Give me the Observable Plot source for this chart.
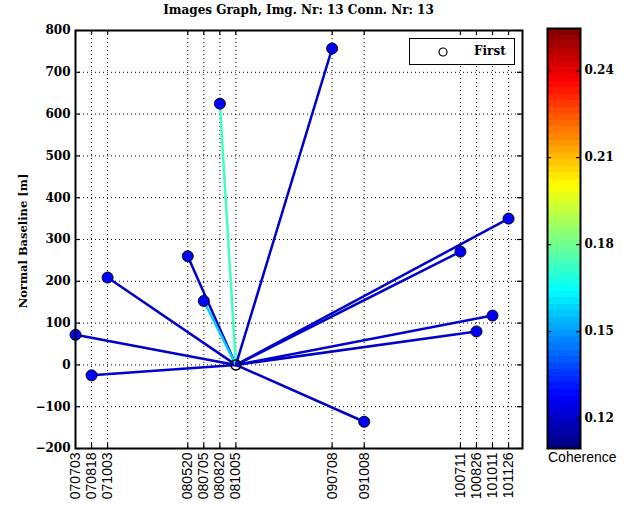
<!DOCTYPE html>
<html>
<head>
<meta charset="utf-8">
<script src="https://cdn.jsdelivr.net/npm/d3@7"></script>
<script src="https://cdn.jsdelivr.net/npm/@observablehq/plot@0.6"></script>
<style>
  body { margin: 0; background: #fff; }
  #wrap { position: relative; width: 630px; height: 506px; background: #fff; overflow: hidden; }
  .abs { position: absolute; }
  #title { left: 75px; width: 447px; top: 3px; text-align: center; font: bold 12px "DejaVu Serif", serif; color: #000; }
  #ylab { left: 23px; top: 241px; transform: translate(-50%, -50%) rotate(-90deg); white-space: nowrap; font: bold 11.5px "DejaVu Serif", serif; }
  #cblab { left: 548px; top: 449px; font: 14px "Liberation Sans", Arial, sans-serif; }
  #legend { left: 409px; top: 38px; width: 106px; height: 27px; box-sizing: border-box; border: 1px solid #000; background: #fff; }
  #legtext { left: 64px; top: 5px; font: bold 12px "DejaVu Serif", serif; }
  #legdot { left: 28px; top: 8px; }
</style>
</head>
<body>
<div id="wrap">
  <div id="main" class="abs" style="left:0;top:0"></div>
  <div id="cb" class="abs" style="left:540px;top:0"></div>
  <div id="title" class="abs"></div>
  <div id="ylab" class="abs"></div>
  <div id="cblab" class="abs"></div>
  <div id="legend" class="abs">
    <svg id="legdot" class="abs" width="10" height="10"><circle cx="5" cy="5" r="4" fill="#fff" stroke="#000" stroke-width="1.2"></circle></svg>
    <div id="legtext" class="abs"></div>
  </div>
</div>
<script>
// ---- data ----
const titleText = "Images Graph, Img. Nr: 13 Conn. Nr: 13";
const yLabel = "Normal Baseline [m]";
const cbLabel = "Coherence";
const legendLabel = "First";
const dates = ["070703","070818","071003","080520","080705","080820","081005","090708","091008","100711","100826","101011","101126"];
const baselines = [72, -25, 209, 260, 153, 625, 0, 757, -136, 271, 80, 118, 350];
const coherence = [0.120, 0.121, 0.120, 0.120, 0.157, 0.173, null, 0.120, 0.120, 0.121, 0.120, 0.121, 0.120];
const masterDate = "081005";
const yTicks = [-200, -100, 0, 100, 200, 300, 400, 500, 600, 700, 800];
const cbTicks = [0.12, 0.15, 0.18, 0.21, 0.24];
const cbDomain = [0.1097, 0.2545];
const xEndDate = "110105";

// ---- helpers ----
const parse = s => new Date(Date.UTC(2000 + +s.slice(0, 2), +s.slice(2, 4) - 1, +s.slice(4, 6)));
const clamp = v => Math.max(0, Math.min(1, v));
const jet = t => {
  const r = clamp(1.5 - Math.abs(4 * t - 3));
  const g = clamp(1.5 - Math.abs(4 * t - 2));
  const b = clamp(1.5 - Math.abs(4 * t - 1));
  return `rgb(${Math.round(r * 255)},${Math.round(g * 255)},${Math.round(b * 255)})`;
};

const dateVals = dates.map(parse);
const labelOf = new Map(dates.map((d, i) => [+dateVals[i], d]));
const points = dates.map((d, i) => ({date: dateVals[i], b: baselines[i], c: coherence[i], master: d === masterDate}));
const master = points.find(p => p.master);
const slaves = points.filter(p => !p.master);

document.getElementById("title").textContent = titleText;
document.getElementById("ylab").textContent = yLabel;
document.getElementById("cblab").textContent = cbLabel;
document.getElementById("legtext").textContent = legendLabel;

// ---- main plot ----
const W = 540, H = 506, mL = 75, mT = 30, mR = 18, mB = 58;
const pW = W - mL - mR, pH = H - mT - mB;
const tickFont = {fontFamily: "DejaVu Serif", fontWeight: "bold", fontSize: 12};

const main = Plot.plot({
  width: W, height: H,
  marginLeft: mL, marginTop: mT, marginRight: mR, marginBottom: mB,
  style: {background: "transparent", color: "#000"},
  x: {type: "utc", domain: [dateVals[0], parse(xEndDate)]},
  y: {domain: [yTicks[0], yTicks[yTicks.length - 1]]},
  color: {type: "linear", domain: cbDomain, interpolate: jet},
  marks: [
    Plot.ruleX(dateVals, {x: d => d, stroke: "#000", strokeWidth: 1, strokeDasharray: "1,3"}),
    Plot.ruleY(yTicks, {y: d => d, stroke: "#000", strokeWidth: 1, strokeDasharray: "1,3"}),
    Plot.ruleX(dateVals, {x: d => d, stroke: "#000", strokeWidth: 1.2, insetTop: pH - 5}),
    Plot.ruleX(dateVals, {x: d => d, stroke: "#000", strokeWidth: 1.2, insetBottom: pH - 5}),
    Plot.ruleY(yTicks, {y: d => d, stroke: "#000", strokeWidth: 1.2, insetRight: pW - 5}),
    Plot.ruleY(yTicks, {y: d => d, stroke: "#000", strokeWidth: 1.2, insetLeft: pW - 5}),
    Plot.link(slaves, {x1: () => master.date, y1: () => master.b, x2: "date", y2: "b", stroke: "c", strokeWidth: 2.5}),
    Plot.dot(slaves, {x: "date", y: "b", r: 5.5, fill: "#0000ff", stroke: "#000", strokeWidth: 1}),
    Plot.dot([master], {x: "date", y: "b", r: 5, fill: "none", stroke: "#000", strokeWidth: 1.5}),
    Plot.axisX(dateVals, {tickSize: 0, tickPadding: 4, tickRotate: -90, tickFormat: d => labelOf.get(+d),
      fontFamily: "Liberation Sans", fontSize: 14, label: null}),
    Plot.axisY(yTicks, {tickSize: 0, tickPadding: 5, label: null, ...tickFont}),
    Plot.frame({stroke: "#000", strokeWidth: 2})
  ]
});
document.getElementById("main").appendChild(main);

// ---- colorbar ----
const nLev = 64;
const levels = d3.range(nLev).map(i => {
  const lo = cbDomain[0] + (cbDomain[1] - cbDomain[0]) * i / nLev;
  const hi = cbDomain[0] + (cbDomain[1] - cbDomain[0]) * (i + 1) / nLev;
  return {lo, hi, mid: (lo + hi) / 2};
});
const cW = 90, cmL = 7, cmR = 50;
const cpW = cW - cmL - cmR;
const cb = Plot.plot({
  width: cW, height: H,
  marginLeft: cmL, marginRight: cmR, marginTop: 28, marginBottom: mB,
  style: {background: "transparent", color: "#000"},
  x: {domain: [0, 1], axis: null},
  y: {domain: cbDomain, axis: null},
  color: {type: "linear", domain: cbDomain, interpolate: jet},
  marks: [
    Plot.rect(levels, {x1: () => 0, x2: () => 1, y1: "lo", y2: "hi", fill: "mid", shapeRendering: "crispEdges"}),
    Plot.ruleY(cbTicks, {y: d => d, stroke: "#000", strokeWidth: 1.2, insetRight: cpW - 4}),
    Plot.ruleY(cbTicks, {y: d => d, stroke: "#000", strokeWidth: 1.2, insetLeft: cpW - 4}),
    Plot.axisY(cbTicks, {anchor: "right", tickSize: 0, tickPadding: 4, tickFormat: d3.format(".2f"), label: null, ...tickFont}),
    Plot.frame({stroke: "#000", strokeWidth: 2})
  ]
});
document.getElementById("cb").appendChild(cb);
</script>
</body>
</html>
